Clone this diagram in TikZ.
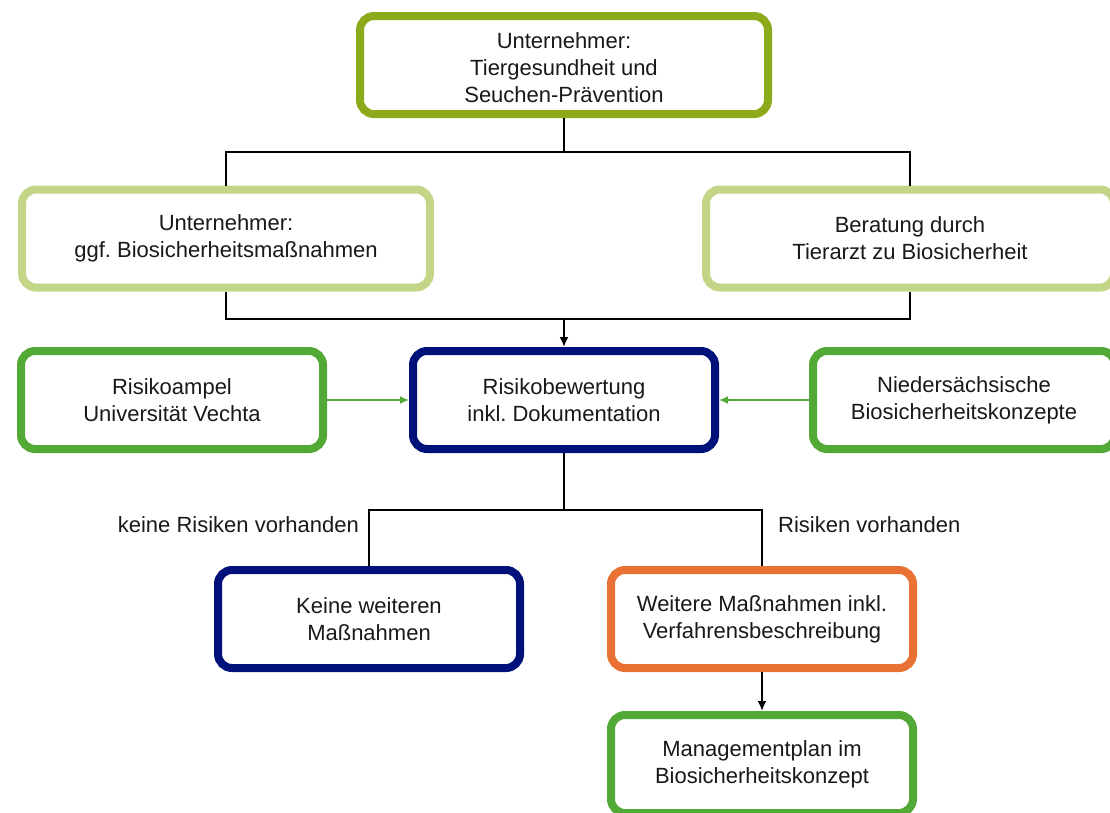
\documentclass[tikz,border=0pt]{standalone}
\usepackage{fontspec}
\setmainfont{Liberation Sans}
\frenchspacing
\usetikzlibrary{arrows.meta}
\definecolor{olivegreen}{HTML}{8DAA1A}
\definecolor{palegreen}{HTML}{C3D688}
\definecolor{leafgreen}{HTML}{53A935}
\definecolor{navyblue}{HTML}{00127A}
\definecolor{burntorange}{HTML}{EA7134}
\begin{document}
\begin{tikzpicture}[x=1pt, y=-1pt,
    every node/.style={font=\fontsize{22}{27}\selectfont, text=black!90},
    box/.style={draw, line width=8pt, rounded corners=14pt, align=center, minimum height=98pt, fill=white},
    widebox/.style={box, minimum width=408pt},
    smallbox/.style={box, minimum width=302pt},
    link/.style={line width=2pt},
    arr/.style={link, -{Latex[length=10pt, width=9pt]}},
    greenarr/.style={draw=leafgreen, line width=1.6pt, -{Latex[length=9pt, width=8pt]}}]
    \useasboundingbox (0,0) rectangle (1110,812);

    % Unternehmer
    \node[widebox, draw=olivegreen] (unt) at (564,65) {\\[-6pt]Unternehmer:\\Tiergesundheit und\\Seuchen-Prävention};

    % Massnahmen und Beratung
    \node[widebox, draw=palegreen] (massn) at (226,238.5) {Unternehmer:\\ggf. Biosicherheitsmaßnahmen};
    \node[widebox, draw=palegreen] (berat) at (910,238.5) {Beratung durch\\Tierarzt zu Biosicherheit};

    % Risikobewertung
    \node[smallbox, draw=leafgreen] (ampel) at (172,400) {Risikoampel\\Universität Vechta};
    \node[smallbox, draw=navyblue] (bewert) at (564,400) {Risikobewertung\\inkl. Dokumentation};
    \node[smallbox, draw=leafgreen] (konz) at (964,400) {Niedersächsische\\Biosicherheitskonzepte};

    % Ergebnis
    \node[smallbox, draw=navyblue] (keine) at (369,619) {Keine weiteren\\Maßnahmen};
    \node[smallbox, draw=burntorange] (weitere) at (762,619) {Weitere Maßnahmen inkl.\\Verfahrensbeschreibung};
    \node[smallbox, draw=leafgreen] (plan) at (762,764) {Managementplan im\\Biosicherheitskonzept};

    % Verbindungen
    \coordinate (top) at (564,152);
    \draw[link] (unt.south) -- (top);
    \draw[link] (top) -| (massn.north);
    \draw[link] (top) -| (berat.north);

    \coordinate (mid) at (564,319);
    \draw[link] (massn.south) |- (mid) -| (berat.south);
    \draw[arr] (mid) -- (bewert.north);

    \draw[greenarr] (ampel) -- (bewert);
    \draw[greenarr] (konz) -- (bewert);

    \coordinate (split) at (564,510);
    \draw[link] (bewert.south) -- (split);
    \draw[link] (split) -| (keine.north);
    \draw[link] (split) -| (weitere.north);
    \draw[arr] (weitere.south) -- (plan.north);

    \node[anchor=base east, inner sep=0pt] (nolabel) at (359,532) {keine Risiken vorhanden};
    \node[anchor=base west, inner sep=0pt] (yeslabel) at (778,532) {Risiken vorhanden};
\end{tikzpicture}
\end{document}
